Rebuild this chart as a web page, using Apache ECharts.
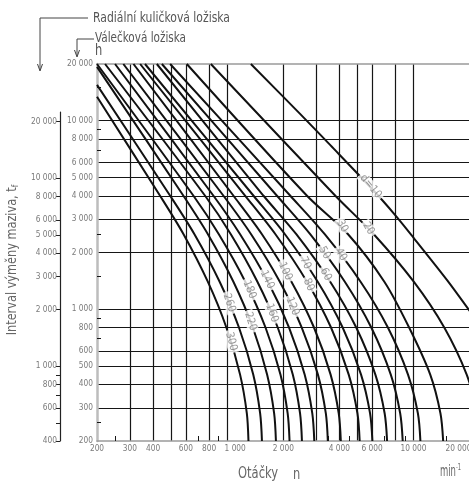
<!DOCTYPE html>
<html><head><meta charset="utf-8">
<script src="https://cdn.jsdelivr.net/npm/echarts@6/dist/echarts.min.js"></script>
<style>html,body{margin:0;padding:0;background:#fff}#c{width:469px;height:481px}</style>
</head><body><div id="c"></div>
<script>
// ---- data: speed n [min^-1] vs relubrication interval t_f [h], one curve per bore diameter d ----
const diameters = [10,20,30,40,50,60,70,80,100,120,140,160,180,220,260,300];
const curve_d10  = [[1340,20000],[2470,10840],[3580,7420],[6020,4330],[8000,3150],[10000,2400],[15230,1420],[20000,983],[22900,818]];
const curve_d20  = [[817,20000],[3808,4000],[6124,2500],[10040,1400],[14640,800],[19320,450],[22140,280]];
const curve_d30  = [[607,20000],[2682,4000],[4455,2500],[6980,1400],[9480,800],[12310,450],[13970,280],[14440,200]];
const curve_d40  = [[494,20000],[2182,4000],[3340,2500],[5202,1400],[7292,800],[9352,450],[10570,280],[10900,200]];
const curve_d50  = [[446,20000],[1850,4000],[2790,2500],[4282,1400],[5938,800],[7558,450],[8492,280],[8760,200]];
const curve_d60  = [[419,20000],[1567,4000],[2350,2500],[3574,1400],[4930,800],[6246,450],[7008,280],[7220,200]];
const curve_d70  = [[362,20000],[1385,4000],[2042,2500],[3062,1400],[4168,800],[5233,450],[5850,280],[6020,200]];
const curve_d80  = [[341,20000],[1250,4000],[1816,2500],[2682,1400],[3610,800],[4494,450],[5005,280],[5144,200]];
const curve_d100 = [[314,20000],[1081,4000],[1537,2500],[2213,1400],[2925,800],[3592,450],[3971,280],[4075,200]];
const curve_d120 = [[277,20000],[955,4000],[1344,2500],[1917,1400],[2514,800],[3070,450],[3386,280],[3470,200]];
const curve_d140 = [[250,20000],[844,4000],[1173,2500],[1655,1400],[2149,800],[2606,450],[2864,280],[2936,200]];
const curve_d160 = [[221,20000],[761,4000],[1046,2500],[1453,1400],[1868,800],[2250,450],[2462,280],[2520,200]];
const curve_d180 = [[200,20000],[659,4000],[902,2500],[1251,1400],[1606,800],[1932,450],[2112,280],[2162,200]];
const curve_d220 = [[200,19300],[582,4000],[788,2500],[1080,1400],[1373,800],[1638,450],[1787,280],[1827,200]];
const curve_d260 = [[200,15500],[494,4000],[667,2500],[911,1400],[1157,800],[1380,450],[1503,280],[1537,200]];
const curve_d300 = [[200,13400],[436,4000],[583,2500],[787,1400],[990,800],[1173,450],[1275,280],[1301,200]];
const labelAt = [[5900,4480],[5740,2680],[4150,2760],[4080,1950],[3330,1990],[3380,1530],[2630,1760],[2740,1350],
                 [2050,1590],[2240,1036],[1640,1437],[1740,956],[1318,1271],[1335,862],[1026,1080],[1051,675]];
const xGridValues  = [300,400,500,600,800,1000,2000,3000,4000,5000,6000,8000,10000];
const xTickLabels  = [200,300,400,600,800,1000,2000,4000,6000,10000,20000];
const xMinorTicks  = [250,700,900,3500,4500,7000,9000,15000];
const yGridValues  = [300,400,500,600,800,1000,2000,3000,4000,5000,6000,8000,10000];
const yTickLabels  = [200,300,400,500,600,800,1000,2000,3000,4000,5000,6000,8000,10000,20000];
const yMinorTicks  = [250,700,900,1500,2500,7000,9000,15000];
const outerTickLabels = [400,600,800,1000,2000,3000,4000,5000,6000,8000,10000,20000];
const outerMinorTicks = [500,700,900];

// ---- styling ----
const curves = [curve_d10,curve_d20,curve_d30,curve_d40,curve_d50,curve_d60,curve_d70,curve_d80,
                curve_d100,curve_d120,curve_d140,curve_d160,curve_d180,curve_d220,curve_d260,curve_d300];
const labelRotate = [-50,-58,-60,-60,-60,-63,-63,-65,-65,-68,-65,-70,-68,-72,-72,-76];

const mctx = document.createElement('canvas').getContext('2d');
function hasFont(name){
  const s = 'mmmmmmmmmwwwlli 0123456789 Ďěž';
  mctx.font = '40px monospace'; const a = mctx.measureText(s).width;
  mctx.font = '40px serif'; const b = mctx.measureText(s).width;
  mctx.font = '40px "'+name+'", monospace'; const a2 = mctx.measureText(s).width;
  mctx.font = '40px "'+name+'", serif'; const b2 = mctx.measureText(s).width;
  return (a !== a2) || (b !== b2);
}
const FAMILY = ['Liberation Sans Narrow','DejaVu Sans Condensed','Roboto Condensed','Liberation Sans','Roboto'].find(hasFont) || 'sans-serif';
const FONT = '"' + FAMILY + '", sans-serif';
function textW(text, fs){ mctx.font = fs + 'px ' + FONT; return mctx.measureText(text).width; }
function fit(text, w){ return +(100 * w / textW(text, 100)).toFixed(2); }
function squeeze(text, fs, w){ return Math.min(1, w / textW(text, fs)); }
const FS_TICK  = fit('10 000', 26);
const FS_CURVE = fit('100', 19);

const GRID = '#161616';
const LBL = '#7a7a7a';
function fmt(v){ v = Math.round(v); return v >= 1000 ? String(v).replace(/\B(?=(\d{3})+(?!\d))/g,' ') : String(v); }
function fmtX(v){
  const s = fmt(v), r = Math.round(v);
  if (r === 1000) return '{r|' + s + '}';
  if (r === 20000) return '{l|' + s + '}';
  return s;
}

const chart = echarts.init(document.getElementById('c'), null, {renderer:'canvas'});
const series = curves.map(c => ({
  type:'line', xAxisIndex:0, yAxisIndex:0, data:c, smooth:0.3, symbol:'none', showSymbol:false,
  lineStyle:{color:'#111', width:2}, z:3, silent:true
}));
series.push({
  type:'scatter', xAxisIndex:0, yAxisIndex:0, symbolSize:2, itemStyle:{color:'rgba(0,0,0,0)'}, z:10, silent:true,
  data: labelAt.map((p,i)=>({value:p, label:{rotate:labelRotate[i], formatter:(i===0?'d=':'')+diameters[i]}})),
  label:{show:true, position:'inside', color:'#808080', fontSize:FS_CURVE, fontFamily:FONT, backgroundColor:'#fff', padding:[0,2]}
});

const T1 = 'Radiální kuličková ložiska', T2 = 'Válečková ložiska', YT = 'Interval výměny maziva, t';
chart.setOption({
  animation:false,
  backgroundColor:'#fff',
  grid:[{left:97, top:64, width:372.5, height:377, containLabel:false, outerBoundsMode:'none'},
        {left:60, top:112, width:10, height:329, containLabel:false, outerBoundsMode:'none'}],
  xAxis:[
    {gridIndex:0, type:'log', min:200, max:20000, position:'bottom',
     axisLine:{show:true, lineStyle:{color:'#9a9a9a', width:1.5}},
     axisTick:{show:false, customValues:xGridValues},
     splitLine:{show:true, lineStyle:{color:GRID, width:1.2}},
     axisLabel:{customValues:xTickLabels, formatter:fmtX, color:LBL, fontSize:FS_TICK, fontFamily:FONT, margin:4,
                rich:{r:{color:LBL, fontSize:FS_TICK, fontFamily:FONT, padding:[0,0,0,16]},
                      l:{color:LBL, fontSize:FS_TICK, fontFamily:FONT, padding:[0,22,0,0]}}}},
    {gridIndex:0, type:'log', min:200, max:20000, position:'bottom',
     axisLine:{show:false}, axisLabel:{show:false}, splitLine:{show:false},
     axisTick:{show:true, inside:true, length:5, customValues:xMinorTicks, lineStyle:{color:GRID, width:1}}},
    {gridIndex:0, type:'log', min:200, max:20000, position:'top',
     axisLine:{show:true, lineStyle:{color:'#9a9a9a', width:1.5}}, axisTick:{show:false}, axisLabel:{show:false}, splitLine:{show:false}},
    {gridIndex:1, type:'value', show:false}
  ],
  yAxis:[
    {gridIndex:0, type:'log', min:200, max:20000, position:'left',
     axisLine:{show:true, lineStyle:{color:'#bdbdbd', width:2.5}},
     axisTick:{show:false, customValues:yGridValues},
     splitLine:{show:true, lineStyle:{color:GRID, width:1.2}},
     axisLabel:{customValues:yTickLabels, formatter:fmt, color:LBL, fontSize:FS_TICK, fontFamily:FONT, margin:4}},
    {gridIndex:0, type:'log', min:200, max:20000, position:'left',
     axisLine:{show:false}, axisLabel:{show:false}, splitLine:{show:false},
     axisTick:{show:true, inside:true, length:4, customValues:yMinorTicks, lineStyle:{color:GRID, width:1}}},
    {gridIndex:1, type:'log', min:400, max:22494, position:'left',
     axisLine:{show:true, lineStyle:{color:'#222', width:1.2}},
     axisTick:{show:true, length:4, customValues:outerTickLabels, lineStyle:{color:'#222'}},
     splitLine:{show:false},
     axisLabel:{customValues:outerTickLabels, formatter:fmt, color:LBL, fontSize:FS_TICK, fontFamily:FONT, margin:3}},
    {gridIndex:1, type:'log', min:400, max:22494, position:'left',
     axisLine:{show:false}, axisLabel:{show:false}, splitLine:{show:false},
     axisTick:{show:true, length:4, customValues:outerMinorTicks, lineStyle:{color:'#222'}}}
  ],
  graphic:[
    {type:'polyline', shape:{points:[[88,18],[40,18],[40,70]]}, style:{stroke:'#444', lineWidth:1, fill:null}},
    {type:'polyline', shape:{points:[[37.5,64],[40,71],[42.5,64]]}, style:{stroke:'#444', lineWidth:1, fill:null}},
    {type:'text', x:93, y:18, scaleX:squeeze(T1,13.5,137),
     style:{text:T1, fontSize:13.5, fontFamily:FONT, fill:'#555', verticalAlign:'middle'}},
    {type:'polyline', shape:{points:[[94,39],[77,39],[77,55]]}, style:{stroke:'#444', lineWidth:1, fill:null}},
    {type:'polyline', shape:{points:[[74.5,50],[77,57],[79.5,50]]}, style:{stroke:'#444', lineWidth:1, fill:null}},
    {type:'text', x:95, y:38, scaleX:squeeze(T2,13.5,91),
     style:{text:T2, fontSize:13.5, fontFamily:FONT, fill:'#555', verticalAlign:'middle'}},
    {type:'text', x:95, y:51, scaleX:0.85, style:{text:'h', fontSize:15, fontFamily:FONT, fill:'#555', verticalAlign:'middle'}},
    {type:'text', x:12, y:260, rotation:Math.PI/2, scaleX:squeeze(YT,14,148),
     style:{text:YT + '{s|f}', fontSize:14, fontFamily:FONT, fill:'#666', align:'center', verticalAlign:'middle',
            rich:{s:{fontSize:9, fontFamily:FONT, fill:'#666', padding:[7,0,0,0]}}}},
    {type:'text', x:238, y:474, scaleX:squeeze('Otáčky',15,40),
     style:{text:'Otáčky', fontSize:15, fontFamily:FONT, fill:'#666', verticalAlign:'middle'}},
    {type:'text', x:293, y:475, scaleX:0.85,
     style:{text:'n', fontSize:15, fontFamily:FONT, fill:'#666', verticalAlign:'middle'}},
    {type:'text', x:440, y:472, scaleX:squeeze('min',15,16),
     style:{text:'min{s|-1}', fontSize:15, fontFamily:FONT, fill:'#666', verticalAlign:'middle',
            rich:{s:{fontSize:9, fontFamily:FONT, fill:'#666', padding:[0,0,9,0]}}}}
  ],
  series: series
});
</script></body></html>
